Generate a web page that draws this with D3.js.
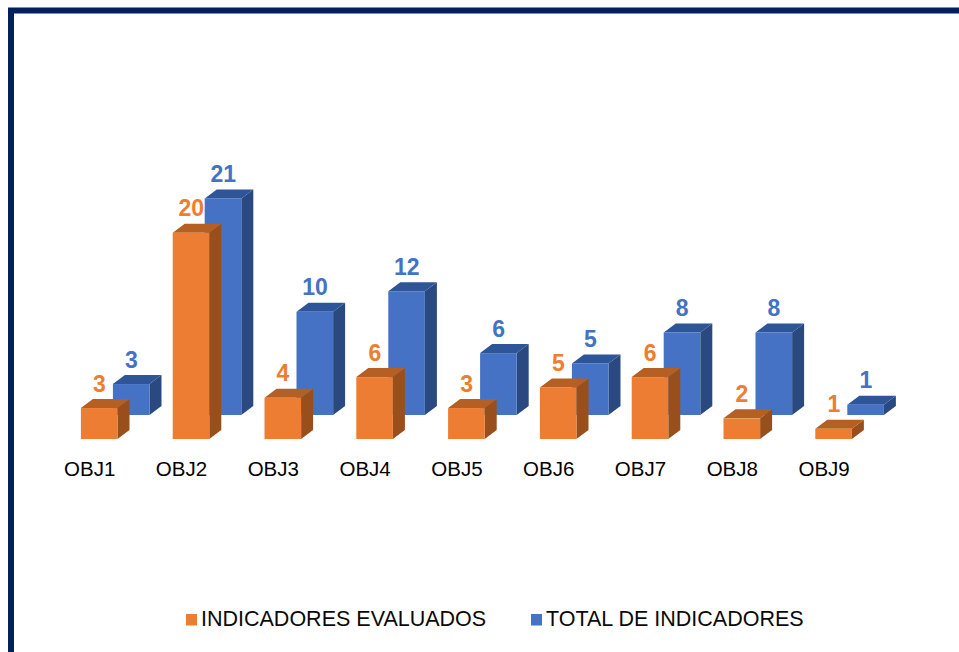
<!DOCTYPE html>
<html><head><meta charset="utf-8">
<script src="https://cdn.jsdelivr.net/npm/d3@7/dist/d3.min.js"></script>
<style>html,body{margin:0;padding:0;background:#fff;overflow:hidden}svg{display:block}text{font-family:"Liberation Sans",Arial,sans-serif}</style>
</head><body><svg id="c" width="959" height="652"></svg>
<script>
const categories = ["OBJ1","OBJ2","OBJ3","OBJ4","OBJ5","OBJ6","OBJ7","OBJ8","OBJ9"];
const evaluados = [3,20,4,6,3,5,6,2,1];
const totales = [3,21,10,12,6,5,8,8,1];
const seriesNames = ["INDICADORES EVALUADOS","TOTAL DE INDICADORES"];

const svg = d3.select("#c");
svg.append("path").attr("d","M11,652V10.5H959").attr("fill","none").attr("stroke","#002060").attr("stroke-width",6);

const x = d3.scaleBand().domain(categories).range([80.9,851.9]).paddingInner(1-36.6/91.8).paddingOuter(0);
const h = d3.scaleLinear().domain([0,21]).range([0,216.6]);
const dx = 12, dy = 9;
const series = [
  {values:totales, base:415, shift:32, c:"#4472C4", top:"#2F5597", side:"#2A4A80"},
  {values:evaluados, base:439, shift:0, c:"#ED7D31", top:"#B55F20", side:"#98501C"}
];
const soft = svg.append("defs").append("filter").attr("id","soft");
soft.append("feGaussianBlur").attr("stdDeviation",0.5);

series.forEach(s=>{
  const g = svg.append("g").attr("filter","url(#soft)");
  const items = categories.map((k,i)=>({k,v:s.values[i]}));
  const X = d=>x(d.k)+s.shift, W = x.bandwidth(), T = d=>s.base-h(d.v);
  g.selectAll(".side").data(items).join("path").attr("fill",s.side)
    .attr("d",d=>`M${X(d)+W},${T(d)}l${dx},${-dy}V${s.base-dy}l${-dx},${dy}Z`);
  g.selectAll(".top").data(items).join("path").attr("fill",s.top)
    .attr("d",d=>`M${X(d)},${T(d)}l${dx},${-dy}h${W}l${-dx},${dy}Z`);
  g.selectAll("rect").data(items).join("rect").attr("fill",s.c)
    .attr("x",X).attr("y",T).attr("width",W).attr("height",d=>h(d.v));
  svg.append("g").selectAll("text").data(items).join("text")
    .attr("x",d=>X(d)+W/2+0.2).attr("y",d=>T(d)-dy-7.5)
    .attr("text-anchor","middle").attr("font-size",23).attr("font-weight","bold").attr("fill",s.c)
    .text(d=>d.v);
});

const ax = svg.append("g").attr("transform","translate(-9.5,461)")
  .call(d3.axisBottom(x).tickSize(0).tickPadding(0));
ax.select(".domain").remove();
ax.selectAll("text").attr("font-size",20.5).attr("fill","#000").attr("font-family",'"Liberation Sans",Arial,sans-serif');

const legend = [{x:186,tx:201,c:"#ED7D31"},{x:531,tx:546,c:"#4472C4"}];
legend.forEach((l,i)=>{
  svg.append("rect").attr("x",l.x).attr("y",614).attr("width",11).attr("height",11.5).attr("fill",l.c);
  svg.append("text").attr("x",l.tx).attr("y",626).attr("font-size",21.5).attr("fill","#0a0a0a").text(seriesNames[i]);
});
</script></body></html>
